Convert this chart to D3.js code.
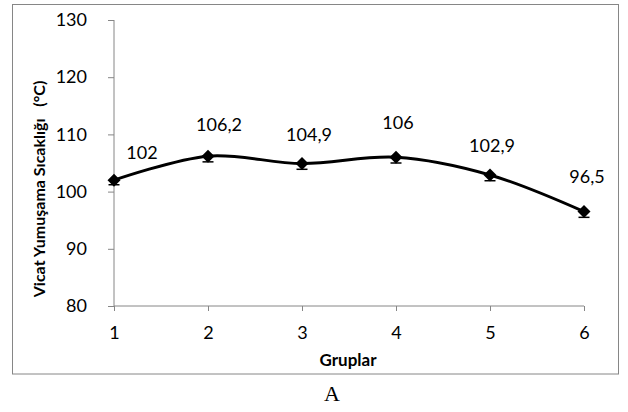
<!DOCTYPE html>
<html>
<head>
<meta charset="utf-8">
<script src="https://cdn.jsdelivr.net/npm/d3@7"></script>
<style>
  body { margin: 0; background: #fff; }
  svg { display: block; }
  text { font-family: Lato, "Open Sans", sans-serif; fill: #000; }
</style>
</head>
<body>
<div id="chart"></div>
<script>
// data
const groups = [1, 2, 3, 4, 5, 6];
const vicat = [102, 106.2, 104.9, 106, 102.9, 96.5];
const labels = ["102", "106,2", "104,9", "106", "102,9", "96,5"];
const errors = [0.8, 1.0, 1.0, 1.0, 1.0, 1.0];   // only the minus side is drawn
const yTicks = [80, 90, 100, 110, 120, 130];

const width = 628, height = 412;
const plot = { left: 114, right: 584, top: 20, bottom: 306 };

const svg = d3.select("#chart").append("svg")
    .attr("width", width)
    .attr("height", height);

// outer chart frame
svg.append("rect")
    .attr("x", 12.5).attr("y", 4.5)
    .attr("width", 606).attr("height", 369.5)
    .attr("fill", "none")
    .attr("stroke", "#868686")
    .attr("stroke-width", 1);

const x = d3.scaleLinear().domain([1, 6]).range([plot.left, plot.right]);
const y = d3.scaleLinear().domain([80, 130]).range([plot.bottom, plot.top]);

// axes
const xAxis = svg.append("g")
    .attr("transform", `translate(0,${plot.bottom})`)
    .call(d3.axisBottom(x).tickValues(groups).tickSize(5).tickPadding(15).tickFormat(d3.format("d")));
const yAxis = svg.append("g")
    .attr("transform", `translate(${plot.left},0)`)
    .call(d3.axisLeft(y).tickValues(yTicks).tickSize(6).tickPadding(21));

[xAxis, yAxis].forEach(g => {
    g.select(".domain").attr("stroke", "#868686");
    g.selectAll(".tick line").attr("stroke", "#868686");
    g.selectAll(".tick text").style("font-size", "18px").attr("fill", "#000");
});
xAxis.select(".domain").attr("d", `M${plot.left},0H${plot.right}`);
yAxis.select(".domain").attr("d", `M0,${plot.top}V${plot.bottom}`);

// smoothed line
const line = d3.line()
    .x((d, i) => x(groups[i]))
    .y(d => y(d))
    .curve(d3.curveCatmullRom.alpha(0.5));

svg.append("path")
    .datum(vicat)
    .attr("d", line)
    .attr("fill", "none")
    .attr("stroke", "#000")
    .attr("stroke-width", 3);

// error bars (minus direction with cap)
const eb = svg.append("g").attr("stroke", "#000").attr("stroke-width", 1.5);
vicat.forEach((v, i) => {
    const cx = x(groups[i]);
    const lo = y(v - errors[i]);
    eb.append("line")
        .attr("x1", cx).attr("x2", cx)
        .attr("y1", y(v)).attr("y2", lo);
    eb.append("line")
        .attr("x1", cx - 5.5).attr("x2", cx + 5.5)
        .attr("y1", lo).attr("y2", lo);
});

// diamond markers
svg.append("g").selectAll("path")
    .data(vicat)
    .join("path")
    .attr("transform", (d, i) => `translate(${x(groups[i])},${y(d)})`)
    .attr("d", "M0,-6.5L6.5,0L0,6.5L-6.5,0Z")
    .attr("fill", "#000");

// data labels (offsets from the point)
const labelDx = [28, 11, 7, 2, 2, 3];
const labelDy = [-28, -32, -30, -35, -30, -36];
svg.append("g").selectAll("text")
    .data(labels)
    .join("text")
    .attr("x", (d, i) => x(groups[i]) + labelDx[i])
    .attr("y", (d, i) => y(vicat[i]) + labelDy[i])
    .attr("text-anchor", "middle")
    .attr("dominant-baseline", "central")
    .style("font-size", "18px")
    .text(d => d);

// axis titles
svg.append("text")
    .attr("x", 348).attr("y", 359)
    .attr("text-anchor", "middle")
    .attr("dominant-baseline", "central")
    .style("font-size", "17px")
    .style("font-weight", "bold")
    .text("Gruplar");

svg.append("text")
    .attr("transform", "translate(38,189) rotate(-90)")
    .attr("text-anchor", "middle")
    .attr("dominant-baseline", "central")
    .style("font-size", "16px")
    .style("font-weight", "bold")
    .text("Vicat Yumuşama Sıcaklığı\u00A0\u00A0\u00A0(°C)");

// panel letter
svg.append("text")
    .attr("x", 332).attr("y", 393)
    .attr("text-anchor", "middle")
    .attr("dominant-baseline", "central")
    .style("font-family", "'Liberation Serif', 'DejaVu Serif', serif")
    .style("font-size", "22px")
    .text("A");
</script>
</body>
</html>
